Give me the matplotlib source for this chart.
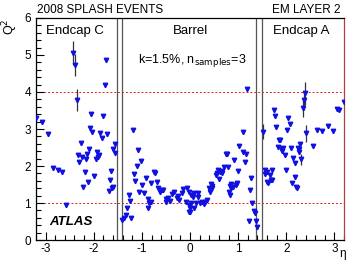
import matplotlib.pyplot as plt
from matplotlib.ticker import MultipleLocator

plt.rcParams['font.family'] = ['Liberation Sans', 'DejaVu Sans']
plt.rcParams['axes.unicode_minus'] = False

# eta / Q^2 points, error only on a few cells
eta = [
    # Endcap C
    -2.43, -2.38, -2.34, -1.75, -1.77, -2.05, -1.80, -3.19, -3.08, -2.07,
    -2.03, -2.95, -1.86, -1.72, -1.82, -2.27, -1.55, -1.60, -1.56, -2.33,
    -2.24, -2.10, -2.15, -2.17, -1.94, -1.90, -1.91, -1.96, -2.31, -2.85,
    -2.75, -2.66, -2.19, -1.65, -2.00, -2.12, -2.22, -1.67, -1.60, -1.63,
    -1.69, -2.57,
    # Barrel
    -1.19, -1.09, -1.02, -1.11, -1.17, -1.15, -0.92, -0.99, -0.75, -0.73,
    -0.82, -0.69, -1.05, -0.95, -0.88, -0.85, -0.87, -0.81, -1.26, -1.25,
    -1.30, -1.34, -1.37, -1.41, -1.22, -0.66, -0.59, -0.56, -0.62, -0.50,
    -0.45, -0.49, -0.42, -0.37, -0.33, -0.24, -0.23, -0.28, -0.17, -0.14,
    -0.07, -0.09, -0.03, 0.02, -0.03, 0.07, -0.03, 0.03, 0.09, 0.17,
    0.16, 0.12, -0.01, 0.00, 0.09, 0.21, 0.24, 0.28, 0.31, 0.35,
    0.29, 0.40, 0.44, 0.45, 0.46, 0.42, 0.56, 0.53, 0.59, 0.62,
    0.66, 0.67, 0.71, 0.79, 0.61, 0.74, 0.76, 0.92, 0.99, 1.02,
    1.09, 1.11, 1.16, 1.15, 1.27, 1.25, 1.29, 1.32, 1.34, 1.22,
    1.37, 1.39, 1.19, 0.97, 0.96, 0.85, 0.83, 0.86, 0.81, 0.83,
    0.90,
    # Endcap A
    2.38, 2.37, 2.35, 3.19, 3.06, 1.74, 1.76, 2.04, 2.07, 1.79,
    2.02, 1.51, 2.41, 2.64, 2.74, 2.86, 2.97, 1.84, 1.87, 1.83,
    1.91, 1.90, 1.94, 1.97, 2.10, 2.24, 2.27, 2.26, 2.29, 2.56,
    2.13, 2.17, 2.31, 1.99, 1.55, 1.60, 1.71, 1.56, 1.67, 1.69,
    1.62, 2.19, 2.12, 2.22, 1.59, 1.70, 2.20, 3.10,
]
q2 = [
    5.05, 4.73, 3.78, 4.85, 4.18, 3.40, 3.36, 3.29, 3.18, 3.04,
    2.93, 2.87, 2.90, 2.86, 2.75, 2.61, 2.60, 2.46, 2.34, 2.30,
    2.25, 2.45, 2.32, 2.18, 2.37, 2.30, 2.25, 2.18, 2.12, 1.94,
    1.89, 1.83, 1.85, 1.87, 1.73, 1.56, 1.44, 1.62, 1.44, 1.40,
    1.33, 0.95,
    2.97, 2.43, 2.14, 2.00, 1.78, 1.60, 1.69, 1.49, 1.83, 1.80,
    1.55, 1.58, 1.29, 1.28, 1.10, 0.99, 0.87, 1.02, 1.22, 1.06,
    0.86, 0.68, 0.61, 0.54, 0.60, 1.40, 1.35, 1.35, 1.31, 1.10,
    1.13, 1.04, 1.06, 1.24, 1.31, 1.19, 1.08, 1.15, 1.26, 1.37,
    1.42, 1.04, 0.95, 0.99, 0.77, 1.17, 1.31, 1.22, 1.26, 1.28,
    1.17, 0.99, 0.87, 0.77, 0.86, 0.99, 1.04, 1.01, 1.04, 1.08,
    0.97, 1.40, 1.51, 1.46, 1.40, 1.31, 1.80, 1.76, 1.89, 1.85,
    1.87, 1.80, 1.97, 1.97, 1.64, 2.32, 2.32, 2.16, 1.87, 2.54,
    2.93, 2.39, 2.32, 2.12, 1.67, 1.35, 1.01, 0.79, 0.74, 0.52,
    0.52, 0.36, 4.08, 1.53, 1.49, 1.51, 1.46, 1.40, 1.31, 1.22,
    1.44,
    3.96, 3.77, 3.58, 3.72, 3.53, 3.51, 3.35, 3.29, 3.13, 3.06,
    2.97, 2.93, 2.88, 2.97, 2.95, 3.09, 2.95, 2.70, 2.70, 2.52,
    2.41, 2.45, 2.48, 2.30, 2.50, 2.50, 2.45, 2.39, 2.60, 2.54,
    2.21, 2.09, 2.18, 1.89, 1.89, 1.85, 1.89, 1.78, 1.76, 1.62,
    1.55, 1.71, 1.53, 1.42, 1.58, 1.62, 1.44, 3.50,
]
q2_err = [0.0] * len(q2)
q2_err[0] = 0.32
q2_err[1] = 0.30
q2_err[2] = 0.30
q2_err[132] = 0.06   # barrel point near 4.1
n0 = 42 + 101
q2_err[n0 + 0] = 0.30
q2_err[n0 + 1] = 0.25
q2_err[n0 + 2] = 0.25
q2_err[n0 + 11] = 0.20
q2_err[n0 + 12] = 0.22
q2_err[n0 + 32] = 0.15

fig = plt.figure(figsize=(3.49, 2.63), dpi=100)
ax = fig.add_axes([0.103, 0.087, 0.883, 0.845])

ax.errorbar(eta, q2, yerr=q2_err, fmt='v', ms=3.2, mfc='#1010e0', mec='#1010e0',
            ecolor='#333333', elinewidth=0.9, capsize=0, zorder=3)

# region boundaries
for xv in (-1.52, -1.42, 1.38, 1.49):
    ax.axvline(xv, color='#555555', lw=0.9, zorder=2)
for yv in (1, 4):
    ax.axhline(yv, color='#e02020', lw=0.7, ls=(0, (2, 2)), zorder=1)

ax.set_xlim(-3.2, 3.2)
ax.set_ylim(0, 6)
ax.xaxis.set_major_locator(MultipleLocator(1))
ax.xaxis.set_minor_locator(MultipleLocator(0.2))
ax.yaxis.set_major_locator(MultipleLocator(1))
ax.yaxis.set_minor_locator(MultipleLocator(0.2))
ax.tick_params(which='both', direction='in', labelsize=8.5, width=0.8)
ax.tick_params(which='major', length=6)
ax.tick_params(which='minor', length=3.5)
ax.tick_params(axis='x', pad=2)
ax.spines['right'].set_color('#b04040')
for s in ax.spines.values():
    s.set_linewidth(0.9)

ax.text(-2.38, 5.65, 'Endcap C', ha='center', va='center', fontsize=9.5)
ax.text(0.0, 5.65, 'Barrel', ha='center', va='center', fontsize=9.5)
ax.text(2.30, 5.65, 'Endcap A', ha='center', va='center', fontsize=9.5)
ax.text(0.05, 4.86, r'k=1.5%, n$_{\rm samples}$=3', ha='center', va='center',
        fontsize=9)
ax.text(-2.92, 0.48, 'ATLAS', ha='left', va='center', fontsize=9.5,
        fontweight='bold', fontstyle='italic')

fig.text(0.106, 0.94, '2008 SPLASH EVENTS', ha='left', va='bottom', fontsize=8.5)
fig.text(0.975, 0.94, 'EM LAYER 2', ha='right', va='bottom', fontsize=8.5)
fig.text(0.03, 0.93, r'Q$^2$', rotation=90, ha='center', va='top', fontsize=9)
fig.text(0.982, 0.012, 'η', ha='center', va='bottom', fontsize=8.5)

fig.savefig('out.png', dpi=100)
